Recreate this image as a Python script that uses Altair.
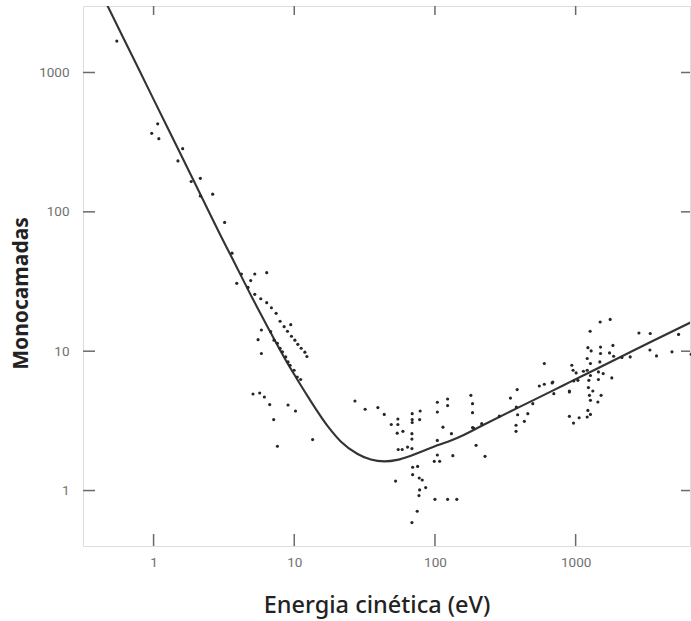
import altair as alt
import pandas as pd

# Scatter data: kinetic energy (eV) and attenuation length in monolayers
ENERGY = [
    0.548, 1.07, 0.97, 1.09, 1.61, 1.49, 1.85, 2.15, 2.15, 2.63, 3.2, 3.61,
    4.21, 5.24, 6.37, 3.9, 4.9, 4.69, 5.24, 5.78, 6.37, 6.88, 7.43, 7.93, 8.47, 9.44,
    8.95, 9.55, 10.1, 10.6, 11.2, 11.9, 12.3, 5.84, 5.53, 5.84,
    7.18, 7.59, 7.93, 8.24, 8.7, 9.03, 9.34, 9.97, 10.5, 11.1, 6.8,
    5.09, 5.68, 6.13, 6.69, 9.03, 10.2, 7.14, 13.5, 7.59,
    27.0, 31.9, 39.3, 43.6, 48.9, 54.5, 54.5, 53.9, 59.2, 68.9, 68.9, 68.9, 78.5, 77.8,
    68.6, 68.6, 54.8, 58.5, 63.9, 68.6, 104, 123, 123, 104, 114, 131, 104, 104, 98.9, 108,
    134, 69.4, 75.3, 69.4, 77.3, 81.2, 85.9, 77.8, 77, 52.5, 100, 123, 143, 74.8, 68.6,
    180, 185, 185, 196, 227, 344, 384, 377, 377, 432, 457, 379, 188, 215, 287, 387, 496,
    552, 599, 599, 681, 700, 903, 903, 185,
    1494, 1760, 1268, 2818, 3390, 5390, 1222, 1503, 1289, 1503, 1841, 1742, 1862, 1208,
    1274, 1486, 2133, 2443, 3374, 3757, 4840, 6630, 939, 959, 1008, 1136, 1208, 1274,
    1242, 1452, 1570, 1452, 1808, 688, 903, 970, 1038, 1233, 1325, 1254, 1517, 1274,
    1439, 1222, 1274, 1208, 1059, 966,
]
MONOLAYERS = [
    1680, 428, 366, 335, 284, 232, 165, 174, 130, 134, 84, 50.5,
    35.8, 35.8, 36.6, 30.7, 32.1, 28.7, 25.6, 23.8, 22.3, 20.5, 18.7, 16.4, 15.0, 15.5,
    13.9, 12.8, 12.0, 11.2, 10.5, 9.84, 9.16, 14.2, 12.1, 9.62,
    12.0, 11.4, 10.5, 9.89, 9.1, 8.38, 7.93, 7.3, 6.53, 6.26, 13.8,
    4.93, 5.01, 4.69, 4.14, 4.11, 3.72, 3.23, 2.32, 2.08,
    4.39, 3.83, 3.94, 3.52, 2.98, 3.26, 2.98, 2.58, 2.66, 3.56, 3.23, 3.08, 3.72, 3.23,
    2.56, 2.34, 1.97, 1.97, 2.05, 2.0, 4.30, 4.54, 4.07, 3.66, 2.85, 2.56, 2.29, 1.80, 1.62, 1.62,
    1.78, 1.47, 1.49, 1.30, 1.23, 1.19, 1.05, 1.01, 0.92, 1.17, 0.865, 0.865, 0.865, 0.71, 0.589,
    4.82, 4.2, 3.62, 2.11, 1.76, 4.61, 5.3, 2.94, 2.66, 3.14, 3.56, 3.97, 2.81, 3.02, 3.42, 3.5, 4.2,
    5.63, 5.79, 8.16, 5.92, 4.96, 5.1, 3.41, 2.83,
    16.2, 16.9, 13.9, 13.5, 13.4, 13.2, 10.6, 10.7, 10.05, 9.62, 11.0, 9.72, 9.2, 8.86,
    8.16, 8.38, 9.01, 9.1, 10.2, 9.25, 9.89, 9.5, 7.93, 7.3, 6.98, 7.18, 7.3, 6.69,
    6.18, 7.1, 6.91, 6.26, 6.43, 6.01, 5.18, 6.11, 6.18, 5.48, 5.18, 4.82, 4.82, 4.44,
    4.32, 3.76, 3.52, 3.37, 3.33, 3.05,
]

# Universal curve
CURVE_E = [0.45, 0.6, 0.8, 1, 1.5, 2, 3, 3.6, 5, 6.45, 8.6, 10, 12.7, 17.5, 21.4, 28.2, 35,
           43.6, 54, 67.5, 84, 104, 130, 153, 224, 387, 670, 930, 1160, 2000, 3440, 6750]
CURVE_L = [3300, 1830, 1015, 641, 280, 155, 67.4, 47, 24.4, 15, 8.8, 6.8, 4.6, 2.85, 2.25, 1.83, 1.67,
           1.62, 1.66, 1.78, 1.94, 2.11, 2.29, 2.45, 2.98, 3.92, 5.15, 6.07, 6.78, 8.9, 11.7, 16.3]

TICKS = [1, 10, 100, 1000]
X_DOMAIN = [0.315, 6500]
Y_DOMAIN = [0.4, 3000]

W, H = 607, 540
FRAME = "#6a6a6a"
LABEL_FONT = "Roboto"
TITLE_FONT = "Noto Sans"

pts = pd.DataFrame({"E": ENERGY, "L": MONOLAYERS})
curve = pd.DataFrame({"E": CURVE_E, "L": CURVE_L})
ticks = pd.DataFrame({"E": TICKS, "L": TICKS})

xs = alt.Scale(type="log", domain=X_DOMAIN, nice=False)
ys = alt.Scale(type="log", domain=Y_DOMAIN, nice=False)

xaxis = alt.Axis(values=TICKS, format="d", ticks=False, domain=False, grid=False,
                 labelFont=LABEL_FONT, labelFontSize=13.5, labelColor="#707070",
                 labelPadding=9, title="Energia cinética (eV)", titleFont=TITLE_FONT,
                 titleFontSize=23.5, titleFontWeight=500, titleColor="#222222", titlePadding=25,
                 titleX=W / 2 - 10)
yaxis = alt.Axis(values=TICKS, format="d", ticks=False, domain=False, grid=False,
                 labelFont=LABEL_FONT, labelFontSize=13.5, labelColor="#707070",
                 labelPadding=14, title="Monocamadas", titleFont=TITLE_FONT,
                 titleFontSize=21, titleFontWeight="bold", titleColor="#222222", titlePadding=7,
                 titleY=H / 2 + 17)

dots = alt.Chart(pts).mark_circle(size=10, color="#262626", opacity=1).encode(
    x=alt.X("E:Q", scale=xs, axis=xaxis),
    y=alt.Y("L:Q", scale=ys, axis=yaxis),
)

line = alt.Chart(curve).mark_line(color="#333333", strokeWidth=2.1, interpolate="monotone", clip=True).encode(
    x=alt.X("E:Q", scale=xs),
    y=alt.Y("L:Q", scale=ys),
)

tick_style = dict(color=FRAME, strokeWidth=1.5)
bottom_ticks = alt.Chart(ticks).mark_rule(**tick_style).encode(
    x=alt.X("E:Q", scale=xs), y=alt.value(H), y2=alt.value(H - 12))
top_ticks = alt.Chart(ticks).mark_rule(**tick_style).encode(
    x=alt.X("E:Q", scale=xs), y=alt.value(0), y2=alt.value(9))
left_ticks = alt.Chart(ticks).mark_rule(**tick_style).encode(
    y=alt.Y("L:Q", scale=ys), x=alt.value(0), x2=alt.value(12))
right_ticks = alt.Chart(ticks).mark_rule(**tick_style).encode(
    y=alt.Y("L:Q", scale=ys), x=alt.value(W), x2=alt.value(W - 9))

chart = alt.layer(line, dots, bottom_ticks, top_ticks, left_ticks, right_ticks).properties(
    width=W, height=H,
    autosize=alt.AutoSizeParams(type="none"),
    padding={"left": 83, "top": 6, "right": 1, "bottom": 75},
).configure_view(stroke=FRAME, strokeWidth=1.5).configure(background="white")

chart.save("out.html", embed_options={"renderer": "svg", "actions": False})
